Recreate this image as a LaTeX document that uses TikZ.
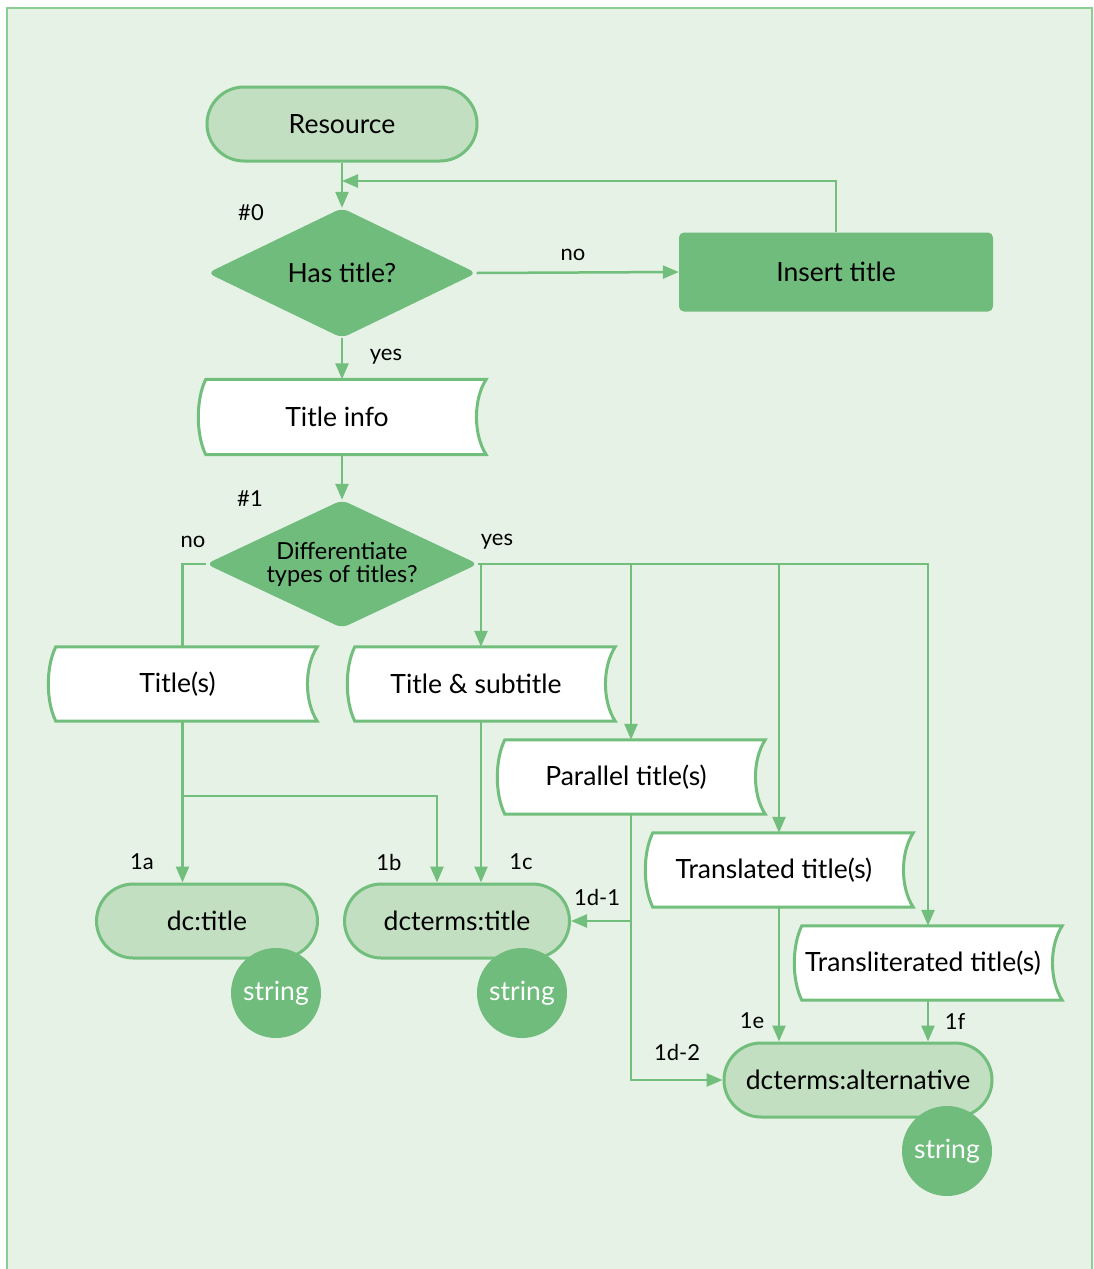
\documentclass[tikz,border=0pt]{standalone}
\usepackage{fontspec}
\setmainfont{Lato}
\usetikzlibrary{shapes.geometric,shapes.misc,arrows.meta,calc}

\definecolor{framebg}{RGB}{230,242,230}
\definecolor{frameline}{RGB}{140,205,145}
\definecolor{flow}{RGB}{114,190,124}
\definecolor{darkfill}{RGB}{111,188,124}
\definecolor{lightfill}{RGB}{194,223,194}

\newcommand\mainsize{\fontsize{26.5}{31}\selectfont}
\newcommand\qsize{\fontsize{23.5}{27}\selectfont}
\newcommand\labsize{\fontsize{22}{26}\selectfont}

% outline of a document (tape) box around node #1
\newcommand\docpath[1]{%
  \filldraw[docline] ($(#1.north west)+(8,0)$) -- (#1.north east)
    .. controls ($(#1.north east)+(-13,20)$) and ($(#1.south east)+(-13,-20)$) .. (#1.south east)
    -- ($(#1.south west)+(8,0)$)
    .. controls ($(#1.south west)+(-2,-20)$) and ($(#1.north west)+(-2,20)$) .. cycle;}

\tikzset{
  term/.style={rounded rectangle, draw=flow, line width=3pt, fill=lightfill,
    minimum height=74pt, font=\mainsize, inner sep=0pt},
  decision/.style={diamond, fill=darkfill, aspect=2, inner sep=0pt,
    rounded corners=7pt, font=\mainsize, align=center},
  action/.style={rectangle, fill=darkfill, rounded corners=5pt,
    minimum width=314pt, minimum height=79pt, font=\mainsize},
  doc/.style={rectangle, minimum width=268pt, minimum height=74pt,
    inner sep=0pt, font=\mainsize},
  doctext/.style={font=\mainsize, xshift=-5pt},
  docline/.style={draw=flow, fill=white, line width=3pt},
  strcirc/.style={circle, fill=darkfill, minimum size=90pt, inner sep=0pt,
    text=white, font=\mainsize},
  lab/.style={inner sep=0pt, font=\labsize},
  link/.style={draw=flow, line width=2.5pt},
  arr/.style={link, -{Triangle[length=16pt,width=13pt]}},
}

\begin{document}
\begin{tikzpicture}[x=1pt, y=-1pt]
  \useasboundingbox (0,0) rectangle (1093,1269);
  % panel
  \fill[framebg] (7,8) rectangle (1092,1290);
  \draw[frameline, line width=1.5pt] (7,1290) -- (7,8) -- (1092,8) -- (1092,1290);

  % top part
  \node[term, minimum width=270pt] (res) at (342,124) {Resource};
  \node[decision, minimum width=269pt, minimum height=130pt] (d0) at (342,273) {Has title?};
  \node[action] (ins) at (836,272) {Insert title};
  \node[doc, minimum width=288pt, minimum height=75pt] (ti) at (342,417) {};
  \docpath{ti}
  \node[doctext] at (ti) {Title info};

  \node[decision, font=\qsize, minimum width=272pt, minimum height=128pt] (d1) at (342,564)
    {Differentiate\\[-4pt]types of titles?};

  % title documents
  \node[doc, minimum width=269pt] (t1) at (182.5,684) {};
  \docpath{t1}
  \node[doctext] at (t1) {Title(s)};
  \node[doc] (ts) at (481,684) {};
  \docpath{ts}
  \node[doctext] at (ts) {Title \& subtitle};
  \node[doc] (pt) at (631,777) {};
  \docpath{pt}
  \node[doctext] at (pt) {Parallel title(s)};
  \node[doc] (tr) at (779,870) {};
  \docpath{tr}
  \node[doctext] at (tr) {Translated title(s)};
  \node[doc] (tl) at (928,963) {};
  \docpath{tl}
  \node[doctext] at (tl) {Transliterated title(s)};

  % target properties
  \node[term, minimum width=221pt] (dct) at (207,921) {dc:title};
  \node[term, minimum width=225pt] (dctt) at (457,921) {dcterms:title};
  \node[term, minimum width=268pt] (alt) at (858,1080) {dcterms:alternative};
  \node[strcirc] (s1) at (276,993) {string};
  \node[strcirc] (s2) at (522,993) {string};
  \node[strcirc] (s3) at (947,1151) {string};

  % connectors
  \coordinate (fb) at (342,181);
  \draw[arr] (res.south) -- (d0.north);
  \draw[arr] (ins.north) |- (fb);
  \draw[arr] (d0.east) -- (ins.west);
  \draw[arr] (d0.south) -- (ti.north);
  \draw[arr] (ti.south) -- (d1.north);
  \draw[link] (d1.west) -| (t1.north);
  \draw[arr] (d1.east) -| (ts.north);
  \draw[arr] (d1.east) -| (pt.north);
  \draw[arr] (d1.east) -| (tr.north);
  \draw[arr] (d1.east) -| (tl.north);
  \draw[arr] (t1.south) -- (t1.south |- dct.north);
  \coordinate (split) at (182,796);
  \draw[arr] (split) -| ([xshift=-20pt]dctt.north);
  \draw[arr] (ts.south) -- (ts.south |- dctt.north);
  \draw[arr] (pt.south) |- (alt.west);
  \draw[arr] (pt.south |- dctt.east) -- (dctt.east);
  \draw[arr] (tr.south) -- (tr.south |- alt.north);
  \draw[arr] (tl.south) -- (tl.south |- alt.north);

  % labels
  \node[lab] at (251,213) {\#0};
  \node[lab] at (573,255) {no};
  \node[lab] at (386,357) {yes};
  \node[lab] at (250,499) {\#1};
  \node[lab] at (193,542) {no};
  \node[lab] at (497,542) {yes};
  \node[lab] at (142,862) {1a};
  \node[lab] at (389,862) {1b};
  \node[lab] at (521,862) {1c};
  \node[lab] at (597,897) {1d-1};
  \node[lab] at (677,1052) {1d-2};
  \node[lab] at (752,1021) {1e};
  \node[lab] at (955,1021) {1f};
\end{tikzpicture}
\end{document}
